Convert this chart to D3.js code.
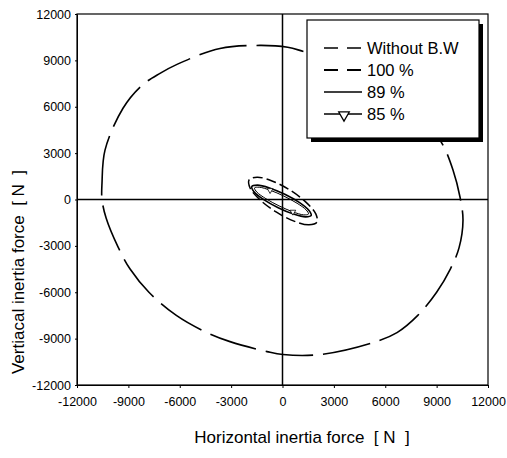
<!DOCTYPE html>
<html>
<head>
<meta charset="utf-8">
<script src="https://cdn.jsdelivr.net/npm/d3@7/dist/d3.min.js"></script>
<style>
  html, body { margin: 0; padding: 0; background: #fff; }
  svg { display: block; }
  text { font-family: "Liberation Sans", Arial, Helvetica, sans-serif; fill: #000; }
</style>
</head>
<body>
<svg id="chart" width="507" height="458"></svg>
<script>
// Inertia force loci [N]: horizontal (x) vs vertical (y) over one revolution
const xTicks = [-12000, -9000, -6000, -3000, 0, 3000, 6000, 9000, 12000];
const yTicks = [-12000, -9000, -6000, -3000, 0, 3000, 6000, 9000, 12000];

const seriesNames = ["Without B.W", "100 %", "89 %", "85 %"];

// Without balance weight
const withoutBW = [
  [-10540, 0], [-10540, 1065], [-10365, 3194], [-9314, 5903], [-8204, 7387],
  [-7153, 8161], [-6161, 8742], [-3650, 9774], [-1314, 9968], [300, 9850],
  [1431, 9516], [3500, 9000], [5676, 7804], [7600, 6000], [8500, 4900],
  [9372, 3516], [9956, 1903], [10365, 161], [10540, -1323], [10307, -3129],
  [9800, -4500], [9000, -6000], [7900, -7500], [6686, -8613], [5285, -9258],
  [2190, -10032], [29, -10032], [-905, -9839], [-3066, -9194], [-4409, -8613],
  [-6200, -7500], [-7800, -6000], [-8900, -4500], [-9606, -3065], [-10300, -1200]
];

// 100 % balance weight
const bw100 = [
  [2009, -1465], [1542, -1639], [672, -1400], [-374, -806], [-1308, -26], [-1886, 729],
  [-1950, 1271], [-1483, 1445], [-613, 1200], [432, 613], [1366, -168], [1945, -929]
];

// 89 % balance weight
const bw89 = [
  [1676, -1032], [1349, -1123], [642, -942], [-251, -529], [-1092, -6], [-1653, 490],
  [-1793, 839], [-1460, 929], [-759, 748], [134, 335], [975, -187], [1536, -690]
];

// 85 % balance weight
const bw85 = [
  [1518, -942], [1238, -994], [607, -800], [-199, -413], [-969, 52], [-1495, 477],
  [-1635, 748], [-1355, 794], [-724, 600], [82, 219], [853, -245], [1378, -671]
];

const svg = d3.select("#chart");
const plotLeft = 77, plotRight = 488, plotTop = 14, plotBottom = 385;

const x = d3.scaleLinear().domain([-12000, 12000]).range([plotLeft, plotRight]);
const y = d3.scaleLinear().domain([-12000, 12000]).range([plotBottom, plotTop]);

// Axes (plain hyphen for negative numbers)
const fmt = d => String(d);
const xAxis = d3.axisBottom(x).tickValues(xTicks).tickSize(3).tickPadding(9).tickSizeOuter(0).tickFormat(fmt);
const yAxis = d3.axisLeft(y).tickValues(yTicks).tickSize(2).tickPadding(4).tickSizeOuter(0).tickFormat(fmt);

const gx = svg.append("g").attr("transform", `translate(0,${plotBottom})`).call(xAxis);
const gy = svg.append("g").attr("transform", `translate(${plotLeft},0)`).call(yAxis);
[gx, gy].forEach(g => {
  g.selectAll("text").style("font-size", "12.5px").style("font-family", "'Liberation Sans', Arial, sans-serif");
  g.selectAll("path, line").attr("stroke", "#000").attr("stroke-width", 1);
});

// Frame
svg.append("rect")
  .attr("x", plotLeft).attr("y", plotTop)
  .attr("width", plotRight - plotLeft).attr("height", plotBottom - plotTop)
  .attr("fill", "none").attr("stroke", "#000").attr("stroke-width", 1.2);

// Zero lines
svg.append("line")
  .attr("x1", x(-12000)).attr("x2", x(12000)).attr("y1", y(0)).attr("y2", y(0))
  .attr("stroke", "#000").attr("stroke-width", 1.5);
svg.append("line")
  .attr("x1", x(0)).attr("x2", x(0)).attr("y1", y(12000)).attr("y2", y(-12000))
  .attr("stroke", "#000").attr("stroke-width", 1.5);

const loop = d3.line().x(d => x(d[0])).y(d => y(d[1])).curve(d3.curveCatmullRomClosed.alpha(0.5));

svg.append("path").datum(withoutBW).attr("d", loop)
  .attr("fill", "none").attr("stroke", "#000").attr("stroke-width", 1.6)
  .attr("stroke-dasharray", "48,10");

svg.append("path").datum(bw100).attr("d", loop)
  .attr("fill", "none").attr("stroke", "#000").attr("stroke-width", 1.5)
  .attr("stroke-dasharray", "10,4");

svg.append("path").datum(bw89).attr("d", loop)
  .attr("fill", "none").attr("stroke", "#000").attr("stroke-width", 1.6);

svg.append("path").datum(bw85).attr("d", loop)
  .attr("fill", "none").attr("stroke", "#000").attr("stroke-width", 1);

const tri = d3.symbol().type(d3.symbolTriangle);
svg.append("g").selectAll("path")
  .data(bw85.filter((d, i) => i % 6 === 2))
  .join("path")
  .attr("d", tri.size(14)())
  .attr("transform", d => `translate(${x(d[0])},${y(d[1])}) rotate(180)`)
  .attr("fill", "#fff").attr("stroke", "#000").attr("stroke-width", 0.8);

// Legend with drop shadow
const lg = svg.append("g");
const lx = 307, ly = 20, lw = 172, lh = 118;
lg.append("rect").attr("x", lx + 4).attr("y", ly + 4).attr("width", lw).attr("height", lh).attr("fill", "#000");
lg.append("rect").attr("x", lx).attr("y", ly).attr("width", lw).attr("height", lh)
  .attr("fill", "#fff").attr("stroke", "#000").attr("stroke-width", 1.2);

const rowY = [48, 70, 92, 114];
const sampleStyles = [
  { dash: "14,9", width: 1.3 },
  { dash: "14,9", width: 2.2 },
  { dash: null, width: 1.3 },
  { dash: null, width: 1.3 }
];
seriesNames.forEach((name, i) => {
  const ln = lg.append("line")
    .attr("x1", 324).attr("x2", 362).attr("y1", rowY[i]).attr("y2", rowY[i])
    .attr("stroke", "#000").attr("stroke-width", sampleStyles[i].width);
  if (sampleStyles[i].dash) ln.attr("stroke-dasharray", sampleStyles[i].dash);
  lg.append("text").attr("x", 367).attr("y", rowY[i]).attr("dy", "0.36em")
    .style("font-size", "16.5px").text(name);
});
lg.append("path")
  .attr("d", tri.size(48)())
  .attr("transform", `translate(344,${rowY[3] + 1}) rotate(180)`)
  .attr("fill", "#fff").attr("stroke", "#000").attr("stroke-width", 1.3);

// Axis titles
svg.append("text")
  .attr("x", 302).attr("y", 443)
  .attr("text-anchor", "middle")
  .style("font-size", "17px")
  .attr("xml:space", "preserve")
  .text("Horizontal inertia force  [ N  ]");

svg.append("text")
  .attr("transform", "translate(24,272) rotate(-90)")
  .attr("text-anchor", "middle")
  .style("font-size", "17px")
  .attr("xml:space", "preserve")
  .text("Vertiacal inertia force  [ N  ]");
</script>
</body>
</html>
